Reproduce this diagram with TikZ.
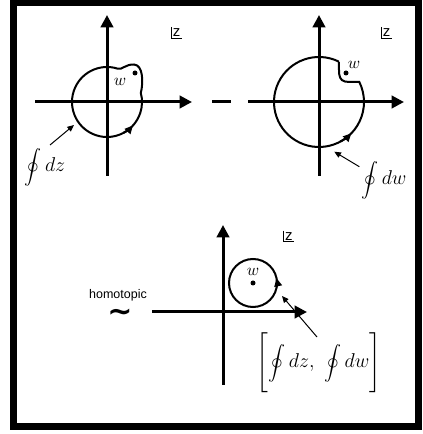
\documentclass[tikz,border=0pt]{standalone}
\usepackage{amsmath}
\usepackage{fontspec}
\setsansfont{Liberation Sans}
\newfontfamily\symfont{DejaVu Sans}
\usetikzlibrary{arrows.meta,calc}
\newcommand{\loopint}{\scalebox{0.85}{$\displaystyle\oint$}}

\begin{document}
\begin{tikzpicture}[
  x=0.6pt, y=0.6pt,
  axisline/.style={line width=1.8pt, -{Triangle[length=7.5pt,width=7.5pt]}},
  contour/.style={line width=1.2pt},
  loopdir/.style={line width=1.2pt, -{Triangle[length=5pt,width=4.5pt]}},
  pointer/.style={line width=0.6pt, -{Triangle[length=4pt,width=3.5pt]}},
  plane/.style={font=\sffamily\small, inner sep=0.8pt},
  pole/.style={circle, fill, inner sep=0pt, minimum size=3pt},
  lbl/.style={inner sep=0pt},
  intlbl/.style={inner sep=0pt, font=\large},
  tiny sans/.style={font=\sffamily\fontsize{7.5pt}{9pt}\selectfont, inner sep=0pt}
]
  \useasboundingbox (0,0) rectangle (422,434);
  \draw[line width=4.2pt] (13.5,7.5) rectangle (418,431.5);

  % left plane: contour with a lobe round w
  \coordinate (oa) at (107,332);
  \draw[axisline] ($(oa)+(-72,0)$) -- ($(oa)+(85,0)$);
  \draw[axisline] ($(oa)+(0,-74)$) -- ($(oa)+(0,87)$);
  \draw[contour] ($(oa)+(72:35)$) arc[start angle=72, end angle=375, radius=35]
    .. controls (143.5,352) and (143,369) .. (134,369.5)
    .. controls (126,370) and (122,364) .. ($(oa)+(72:35)$);
  \draw[loopdir] ($(oa)+(-62:35)$) arc[start angle=-62, end angle=-42, radius=35];
  \node[pole] (wa) at (135,361) {};
  \node[lbl] (wla) at (120,352) {$w$};
  \node[plane] (za) at (176.7,401.5) {z};
  \draw[line width=0.5pt] (za.north west) |- (za.south east);
  \node[intlbl] (dzlab) at (45,267) {$\loopint\, dz$};
  \coordinate (dzs) at (50,289);
  \coordinate (dzt) at (74,309);
  \draw[pointer] (dzs) -- (dzt);

  % minus sign
  \draw[line width=1.8pt] (212,332) -- (231,332);

  % right plane: contour with a dent round w
  \coordinate (ob) at (319,332);
  \draw[axisline] ($(ob)+(-71,0)$) -- ($(ob)+(85,0)$);
  \draw[axisline] ($(ob)+(0,-74)$) -- ($(ob)+(0,87)$);
  \draw[contour] ($(ob)+(64:45)$) arc[start angle=64, end angle=386.5, radius=45]
    .. controls (352,352) and (348,352) .. (345,352.5)
    .. controls (340,353.5) and (339,358) .. (339,364) -- ($(ob)+(64:45)$);
  \draw[loopdir] ($(ob)+(-62:45)$) arc[start angle=-62, end angle=-44, radius=45];
  \node[pole] (wb) at (346,361) {};
  \node[lbl] (wlb) at (354,369) {$w$};
  \node[plane] (zb) at (386.7,401.5) {z};
  \draw[line width=0.5pt] (zb.north west) |- (zb.south east);
  \node[intlbl] (dwlab) at (384,254) {$\loopint\, dw$};
  \coordinate (dws) at (359.3,267.3);
  \coordinate (dwt) at (334.3,282.3);
  \draw[pointer] (dws) -- (dwt);

  % bottom plane: small loop round w
  \node[tiny sans] (homlab) at (118,139) {homotopic};
  \node[font=\symfont\bfseries\fontsize{18pt}{20pt}\selectfont, inner sep=0pt] (simlab) at (120,118.5) {∼};
  \coordinate (oc) at (223,122);
  \coordinate (cc) at (253,151);
  \draw[axisline] ($(oc)+(-71,0)$) -- ($(oc)+(84,0)$);
  \draw[axisline] ($(oc)+(0,-73)$) -- ($(oc)+(0,87)$);
  \draw[contour] (cc) circle[radius=24];
  \draw[loopdir] ($(cc)+(-10:24)$) arc[start angle=-10, end angle=12, radius=24];
  \node[pole] (wc) at (cc) {};
  \node[lbl] (wlc) at (253,162) {$w$};
  \node[plane] (zc) at (288.8,197.8) {z};
  \draw[line width=0.5pt] (zc.north west) |- (zc.south east);
  \node[intlbl] (pairlab) at (319,71) {$\Biggl[\loopint\, dz,\ \loopint\, dw\Biggr]$};
  \coordinate (prs) at (317,97);
  \coordinate (prt) at (282,138);
  \draw[pointer] (prs) -- (prt);
\end{tikzpicture}
\end{document}
